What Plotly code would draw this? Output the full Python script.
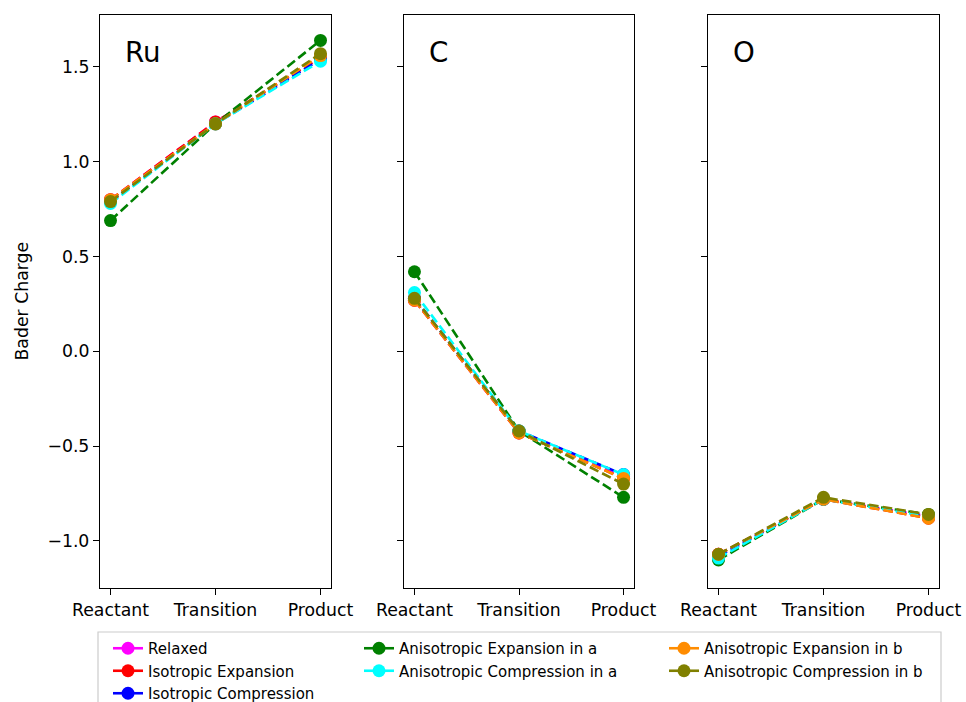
import plotly.graph_objects as go

# States along the reaction path
states = ["Reactant", "Transition", "Product"]
elements = ["Ru", "C", "O"]

series_names = [
    "Relaxed",
    "Isotropic Expansion",
    "Isotropic Compression",
    "Anisotropic Expansion in a",
    "Anisotropic Compression in a",
    "Anisotropic Expansion in b",
    "Anisotropic Compression in b",
]
series_colors = ["magenta", "red", "blue", "green", "cyan", "darkorange", "olive"]

# Bader charges per element, one list per strain condition (Reactant, Transition, Product)
ru_charge = [
    [0.80, 1.21, 1.55],
    [0.80, 1.21, 1.55],
    [0.79, 1.20, 1.54],
    [0.69, 1.20, 1.64],
    [0.78, 1.20, 1.53],
    [0.80, 1.20, 1.56],
    [0.79, 1.20, 1.57],
]
c_charge = [
    [0.27, -0.43, -0.66],
    [0.27, -0.43, -0.67],
    [0.28, -0.42, -0.65],
    [0.42, -0.42, -0.77],
    [0.31, -0.42, -0.65],
    [0.27, -0.43, -0.67],
    [0.28, -0.42, -0.70],
]
o_charge = [
    [-1.07, -0.78, -0.87],
    [-1.07, -0.78, -0.88],
    [-1.08, -0.78, -0.87],
    [-1.10, -0.78, -0.86],
    [-1.09, -0.78, -0.87],
    [-1.07, -0.78, -0.88],
    [-1.07, -0.77, -0.86],
]

y_tick_vals = [-1.0, -0.5, 0.0, 0.5, 1.0, 1.5]
y_tick_text = ["\u22121.0", "\u22120.5", "0.0", "0.5", "1.0", "1.5"]

W, H = 966, 702
FONT = "DejaVu Sans"
panel_px = [(100, 331), (404, 634), (708, 939)]
plot_top, plot_bottom = 15, 588
y_dom = [(H - plot_bottom) / H, (H - plot_top) / H]

fig = go.Figure()

charges = [ru_charge, c_charge, o_charge]
for p, data in enumerate(charges):
    xa = "x" if p == 0 else f"x{p + 1}"
    ya = "y" if p == 0 else f"y{p + 1}"
    for name, color, vals in zip(series_names, series_colors, data):
        fig.add_trace(go.Scatter(
            x=states, y=vals, xaxis=xa, yaxis=ya,
            mode="lines+markers", name=name, showlegend=False,
            line=dict(color=color, width=2.6, dash="9.6px,4.2px"),
            marker=dict(color=color, size=13),
        ))

# Legend entries (solid line + marker), split into three columns
legend_cols = [[0, 1, 2], [3, 4], [5, 6]]
legend_ids = ["legend", "legend2", "legend3"]
for col, lid in zip(legend_cols, legend_ids):
    for i in col:
        fig.add_trace(go.Scatter(
            x=[None], y=[None], mode="lines+markers", name=series_names[i],
            line=dict(color=series_colors[i], width=2.6),
            marker=dict(color=series_colors[i], size=13),
            legend=lid, showlegend=True,
        ))

axis_common = dict(
    showline=True, linecolor="black", linewidth=1.3, mirror=True,
    ticks="outside", ticklen=6, tickwidth=1.3, tickcolor="black",
    showgrid=False, zeroline=False,
    tickfont=dict(family=FONT, size=17.3, color="black"),
)

layout = dict(
    width=W, height=H,
    margin=dict(l=0, r=0, t=0, b=0, autoexpand=False),
    paper_bgcolor="white", plot_bgcolor="white",
    font=dict(family=FONT, color="black"),
    annotations=[],
    shapes=[],
)

for p, (x0, x1) in enumerate(panel_px):
    suffix = "" if p == 0 else str(p + 1)
    layout["xaxis" + suffix] = dict(
        axis_common, domain=[x0 / W, x1 / W], anchor="y" + suffix,
        type="category", range=[-0.1, 2.1],
        categoryorder="array", categoryarray=states,
    )
    layout["yaxis" + suffix] = dict(
        axis_common, domain=y_dom, anchor="x" + suffix,
        range=[-1.248, 1.774],
        tickvals=y_tick_vals, ticktext=y_tick_text,
        showticklabels=(p == 0),
        matches=None if p == 0 else "y",
    )
    layout["annotations"].append(dict(
        text=elements[p], xref=f"x{suffix} domain", yref=f"y{suffix} domain",
        x=0.1, y=0.935, xanchor="left", yanchor="middle", showarrow=False,
        font=dict(family=FONT, size=27.7, color="black"),
    ))

layout["annotations"].append(dict(
    text="Bader Charge", xref="paper", yref="paper",
    x=21 / W, y=(H - (plot_top + plot_bottom) / 2) / H,
    xanchor="center", yanchor="middle", textangle=-90, showarrow=False,
    font=dict(family=FONT, size=17.3, color="black"),
))

# Legend frame
layout["shapes"].append(dict(
    type="rect", xref="paper", yref="paper",
    x0=98 / W, x1=941 / W, y0=-0.05, y1=(H - 632) / H,
    line=dict(color="#cccccc", width=1.2), fillcolor="white", layer="below",
))

legend_x = [108, 359, 664]
for lid, lx in zip(legend_ids, legend_x):
    layout[lid] = dict(
        x=lx / W, y=(H - 632) / H, xanchor="left", yanchor="top",
        orientation="v", bgcolor="rgba(0,0,0,0)", borderwidth=0,
        font=dict(family=FONT, size=15, color="black"),
        itemwidth=30, tracegroupgap=0,
    )

fig.update_layout(**layout)
fig.write_html("out.html")
